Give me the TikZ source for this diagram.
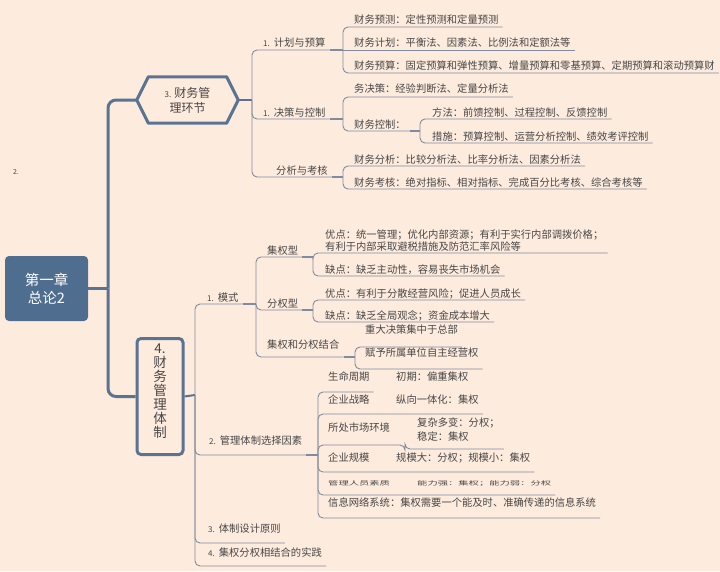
\documentclass[tikz,border=0pt]{standalone}
\usepackage{fontspec}
\setmainfont{Noto Sans CJK SC}
\definecolor{bgc}{HTML}{FDEBDD}
\definecolor{deep}{HTML}{5A7393}
\definecolor{rootfill}{HTML}{4F6E8F}
\definecolor{thinc}{HTML}{7F8CA0}
\definecolor{ink}{HTML}{474747}
\newcommand\padtxt[2]{\hspace*{#1pt}#2\hspace*{4pt}}
\newcommand\padtwo[3]{\hspace*{#1pt}\begin{tabular}[b]{@{}l@{}}#2\\#3\end{tabular}\hspace*{4pt}}
\newcommand\smn[1]{{\fontsize{8}{8}\selectfont #1}}
\begin{document}
\begin{tikzpicture}[x=1pt,y=-1pt,
  txt/.style={font=\fontsize{10.3}{12.5}\selectfont, text=ink},
  leaf/.style={txt, anchor=south west, inner xsep=0pt, inner ysep=1pt, text height=8pt, text depth=2pt},
  conn/.style={draw=thinc, line width=0.9pt, rounded corners=5pt},
  link/.style={draw=thinc, line width=1.6pt},
  trunk/.style={draw=deep, line width=3pt, rounded corners=8pt},
  midl/.style={draw=deep, line width=2pt},
  rootbox/.style={fill=rootfill, rounded corners=4pt, minimum width=83pt, minimum height=65pt, inner sep=0pt, text=white, font=\fontsize{14.5}{18}\selectfont, align=center},
  hexlbl/.style={minimum width=101pt, minimum height=46pt, inner sep=0pt, font=\fontsize{12}{15}\selectfont, text=ink, align=center},
  vbox/.style={draw=deep, line width=3pt, rounded corners=4pt, minimum width=46pt, inner xsep=0pt, inner ysep=4pt, text height=94.5pt, text depth=13.5pt, font=\fontsize{13.5}{14}\selectfont, text=ink, align=center, anchor=north},
]
\fill[bgc] (0,0) rectangle (720,571);
\useasboundingbox (0,0) rectangle (720,571);

% main nodes
\node[rootbox] (root) at (46.5,288.5) {第一章\\总论2};
\node[hexlbl] (hex) at (187.5,100) {\smn{3.}\hspace{3pt}财务管\\理环节};
\draw[deep, line width=3pt, line join=round] (hex.west) -- ([xshift=11.5pt]hex.north west) -- ([xshift=-11.5pt]hex.north east) -- (hex.east) -- ([xshift=-11.5pt]hex.south east) -- ([xshift=11.5pt]hex.south west) -- cycle;
\node[vbox] (box) at (160,337) {4.\\财\\务\\管\\理\\体\\制};
\node[txt, font=\fontsize{7}{7}\selectfont] (two) at (16,172) {2.};

% section 3
\node[leaf] (plan) at (252,50) {\padtxt{11}{\smn{1.}\hspace{4pt}计划与预算}};
\node[leaf, inner ysep=0.5pt] (dec) at (252,119) {\padtxt{11}{\smn{1.}\hspace{4pt}决策与控制}};
\node[leaf, inner ysep=0.5pt] (ana) at (252,177) {\padtxt{24}{分析与考核}};
\node[leaf] (c11) at (343,27) {\padtxt{11}{财务预测：定性预测和定量预测}};
\node[leaf] (c12) at (343,50) {\padtxt{11}{财务计划：平衡法、因素法、比例法和定额法等}};
\node[leaf] (c13) at (343,73) {\padtxt{11}{财务预算：固定预算和弹性预算、增量预算和零基预算、定期预算和滚动预算财}};
\node[leaf, inner ysep=2pt] (c21) at (343,97) {\padtxt{11}{务决策：经验判断法、定量分析法}};
\node[leaf, inner ysep=0pt] (c22) at (343,131) {\padtxt{11}{财务控制：}};
\node[leaf, inner ysep=0pt] (c221) at (420,119) {\padtxt{12}{方法：前馈控制、过程控制、反馈控制}};
\node[leaf, inner ysep=0pt] (c222) at (420,143) {\padtxt{12}{措施：预算控制、运营分析控制、绩效考评控制}};
\node[leaf, inner ysep=0pt] (c31) at (343,166) {\padtxt{11}{财务分析：比较分析法、比率分析法、因素分析法}};
\node[leaf, inner ysep=0pt] (c32) at (343,189) {\padtxt{11}{财务考核：绝对指标、相对指标、完成百分比考核、综合考核等}};

% section 4
\node[leaf, inner ysep=0pt] (mode) at (195,304) {\padtxt{12}{\smn{1.}\hspace{4pt}模式}};
\node[leaf, inner ysep=8pt] (sel) at (195,455) {\padtxt{14}{\smn{2.}\hspace{4pt}管理体制选择因素}};
\node[leaf, inner ysep=8pt] (design) at (195,543) {\padtxt{13}{\smn{3.}\hspace{4pt}体制设计原则}};
\node[leaf, inner ysep=7pt] (prac) at (195,566) {\padtxt{13}{\smn{4.}\hspace{4pt}集权分权相结合的实践}};

\node[leaf, inner ysep=0pt] (jq) at (256,257) {\padtxt{11}{集权型}};
\node[leaf, inner ysep=0pt] (fq) at (256,310) {\padtxt{11}{分权型}};
\node[leaf, inner ysep=6pt] (jf) at (256,357) {\padtxt{11}{集权和分权结合}};
\node[leaf, inner ysep=0pt] (jq1) at (313,253) {\padtwo{12}{优点：统一管理；优化内部资源；有利于实行内部调拨价格；}{有利于内部采取避税措施及防范汇率风险等}};
\node[leaf, inner ysep=0pt] (jq2) at (313,276) {\padtxt{12}{缺点：缺乏主动性，容易丧失市场机会}};
\node[leaf, inner ysep=0pt] (fq1) at (313,300) {\padtxt{12}{优点：有利于分散经营风险；促进人员成长}};
\node[leaf, inner ysep=0pt] (fq2) at (313,322) {\padtxt{12}{缺点：缺乏全局观念；资金成本增大}};
\node[leaf, inner ysep=11pt] (jf1) at (355,347) {\padtxt{10}{重大决策集中于总部}};
\node[leaf, inner ysep=10pt] (jf2) at (355,369) {\padtxt{10}{赋予所属单位自主经营权}};

\node[leaf, inner ysep=9pt] (life) at (318,392) {\padtxt{10}{生命周期}};
\node[leaf, inner ysep=9pt] (lifesub) at (396,392) {初期：偏重集权};
\node[leaf, inner ysep=8pt] (strat) at (318,414) {\padtxt{10}{企业战略}};
\node[leaf, inner ysep=8pt] (stratsub) at (396,414) {\padtxt{0}{纵向一体化：集权}};
\node[leaf, inner ysep=11pt] (mkt) at (318,445) {\padtxt{10}{所处市场环境}};
\node[leaf, font=\fontsize{10.3}{14.5}\selectfont, inner ysep=6pt] (msub) at (405,449) {\padtwo{12}{复杂多变：分权；}{稳定：集权}};
\node[leaf, inner ysep=8pt] (scale) at (318,472) {\padtxt{10}{企业规模}};
\node[leaf, inner ysep=8pt] (scalesub) at (396,472) {\padtxt{0}{规模大：分权；规模小：集权}};
\node[leaf, inner ysep=7pt] (mgr) at (318,495) {\padtxt{10}{\scalebox{1}[0.55]{管理人员素质}}};
\node[leaf, inner ysep=7pt] (mgrsub) at (417,495) {\padtxt{0}{\scalebox{1}[0.55]{能力强：集权；能力弱：分权}}};
\node[leaf, inner ysep=9pt] (info) at (318,518) {\padtxt{10}{信息网络系统：集权需要一个能及时、准确传递的信息系统}};

% connectors
\coordinate (jt) at (108,288.5);
\draw[trunk] (root.east) -- (jt);
\draw[trunk] (jt) |- (hex.west);
\draw[trunk] (jt) |- (box.west);

\coordinate (j3) at (252,100);
\draw[midl] (hex.east) -- (j3);
\foreach \nn in {plan,dec,ana} \draw[conn] (j3) |- (\nn.south east);

\coordinate (jp) at (343,50);
\draw[link] (plan.south east) -- (jp);
\draw[conn] (jp) |- (c11.south east);
\draw[conn] (jp) -- (c12.south east);
\draw[conn] (jp) |- (c13.south east);

\coordinate (jd) at (343,119);
\draw[link] (dec.south east) -- (jd);
\draw[conn] (jd) |- (c21.south east);
\draw[conn] (jd) |- (c22.south east);

\coordinate (jc) at (420,131);
\draw[link] (c22.south east) -- (jc);
\draw[conn] (jc) |- (c221.south east);
\draw[conn] (jc) |- (c222.south east);

\coordinate (ja) at (343,177);
\draw[link] (ana.south east) -- (ja);
\draw[conn] (ja) |- (c31.south east);
\draw[conn] (ja) |- (c32.south east);

\coordinate (j4) at (195,395);
\draw[midl] (box.east) -- (j4);
\foreach \nn in {mode,sel,design,prac} \draw[conn] (j4) |- (\nn.south east);

\coordinate (jm) at (256,304);
\draw[link] (mode.south east) -- (jm);
\foreach \nn in {jq,fq,jf} \draw[conn] (jm) |- (\nn.south east);

\coordinate (jjq) at (313,257);
\draw[link] (jq.south east) -- (jjq);
\draw[conn] (jjq) |- (jq1.south east);
\draw[conn] (jjq) |- (jq2.south east);

\coordinate (jfq) at (313,310);
\draw[link] (fq.south east) -- (jfq);
\draw[conn] (jfq) |- (fq1.south east);
\draw[conn] (jfq) |- (fq2.south east);

\coordinate (jjf) at (355,357);
\draw[link] (jf.south east) -- (jjf);
\draw[conn] (jjf) |- (jf1.south east);
\draw[conn] (jjf) |- (jf2.south east);

\coordinate (js) at (318,455);
\draw[link] (sel.south east) -- (js);
\foreach \nn in {life,stratsub,mkt,scalesub,mgrsub,info} \draw[conn] (js) |- (\nn.south east);
\draw[conn] (mkt.south east) -- (msub.south west |- mkt.south east) -- (msub.south west) -- (msub.south east);
\end{tikzpicture}
\end{document}
